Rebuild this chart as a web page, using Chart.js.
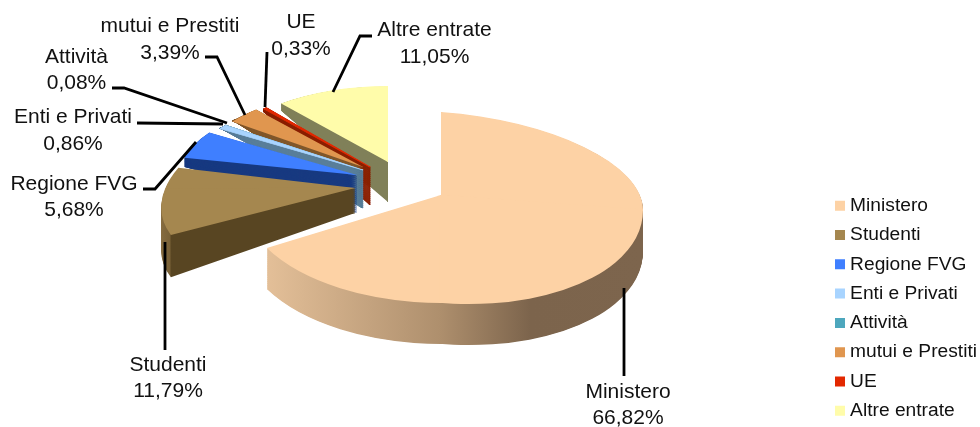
<!DOCTYPE html>
<html><head><meta charset="utf-8">
<style>html,body{margin:0;padding:0;background:#fff}#w{width:980px;height:427px}canvas{filter:blur(.35px)}</style>
<script src="https://cdn.jsdelivr.net/npm/chart.js@4"></script>
</head><body><div id="w"><canvas id="c"></canvas></div>
<script>
const categories = ["Ministero","Studenti","Regione FVG","Enti e Privati","Attività","mutui e Prestiti","UE","Altre entrate"];
const shares = [66.82,11.79,5.68,0.86,0.08,3.39,0.33,11.05];
const faceColors = ["#FDD2A5","#A5874F","#3F7FFF","#A8D4FF","#4DA7BD","#E0964F","#E32800","#FFFCAA"];
const wallColors = ["#7C644C","#584522","#183A80","#5A7F9A","#2D6A78","#80582C","#8A2000","#80805A"];
const hairline = [0,0,0,0.9,0.9,0,1.1,0];

// perspective placement of each slice (styling of the fake 3D view)
function place(x,y,a,b,c,d,depth,k){return {x,y,aL:a,aR:a,bL:b,bR:b,cT:c,cB:c,dT:d,dB:d,depth,k};}
const view = [
  {x:441,y:195,aL:200,aR:202,bL:0,bR:15,cT:0,cB:0,dT:83,dB:108,depth:41,k:0},
  place(355,188,190,-1,-38,94,25,-0.093),
  place(357,175,177,0,0,77,38,0.166),
  place(363,170,171,0,0,75,38,0.27),
  place(362,170,171,0,0,75,38,0.27),
  place(363,167,163,0,0,76,38,0.3),
  place(370,167,162,0,0,77,38,0.33),
  place(388,162,167,0,0,76,40,0.308)
];
const paintOrder = [7,6,5,4,3,2,1,0];

// label blocks: centre x, first line y, second line y, leader polyline
const labelPos = [
  {x:628,y1:392,y2:418,line:[[624,288],[624,376]]},
  {x:168,y1:365,y2:391,line:[[165,242],[165,350]]},
  {x:74,y1:184,y2:210,line:[[196,142],[155,189],[143,189]]},
  {x:73,y1:117,y2:144,line:[[137,123],[223,124]]},
  {x:76.5,y1:57,y2:83,line:[[112,88],[124,88],[227,123]]},
  {x:170,y1:26,y2:53,line:[[205,57],[217,57],[245,115]]},
  {x:301,y1:22,y2:49,line:[[267,52],[265,107]]},
  {x:434.5,y1:30,y2:57,line:[[372,36],[360,36],[333,92]]}
];
const fmt = v => v.toFixed(2).replace('.',',')+'%';

function drawArc(ctx,el,p,t,color,hair){
  const R=el.outerRadius, saved=el.options;
  el.options=Object.assign({},saved,{backgroundColor:color,borderColor:color,borderWidth:hair,borderAlign:'center',offset:0,spacing:0});
  for(const su of [-1,1]) for(const sv of [-1,1]){
    const a=su<0?p.aL:p.aR,b=su<0?p.bL:p.bR,c=sv<0?p.cT:p.cB,d=sv<0?p.dT:p.dB;
    ctx.save();
    ctx.transform(1,t*p.k,0,1,p.x,p.y+t*p.depth);
    ctx.transform(a/R,b/R,c/R,d/R,0,0);
    ctx.beginPath();
    const e=0.6, w=R*1.2;
    ctx.rect(su<0?-w:-e,sv<0?-w:-e,w+e,w+e);
    ctx.clip();
    ctx.translate(-el.x,-el.y);
    el.draw(ctx);
    ctx.restore();
  }
  el.options=saved;
}
function wallStyle(ctx,el,i,p){
  const R=el.outerRadius;
  if(i===0){
    const g=ctx.createLinearGradient(el.x-R,0,el.x+R,0);
    const s=v=>(v-(p.x-201))/402;
    g.addColorStop(0,"#F0CBA2");
    g.addColorStop(s(267),"#E3BF98");
    g.addColorStop(s(440),"#AE8F6D");
    g.addColorStop(s(530),"#7C644C");
    g.addColorStop(1,"#7D654D");
    return g;
  }
  if(i===1){
    const g=ctx.createLinearGradient(el.x-R,0,el.x+R,0);
    g.addColorStop(0,"#8A6F42");
    g.addColorStop(0.06,"#7A6238");
    g.addColorStop(0.065,wallColors[1]);
    g.addColorStop(1,wallColors[1]);
    return g;
  }
  return wallColors[i];
}
const fake3d={
  id:'fake3d',
  beforeDatasetsDraw(chart){
    const ctx=chart.ctx, arcs=chart.getDatasetMeta(0).data;
    for(const i of paintOrder){
      const el=arcs[i], p=view[i], wall=wallStyle(ctx,el,i,p);
      const n=Math.ceil(p.depth*1.5);
      for(let s=n;s>0;s--) drawArc(ctx,el,p,s/n,wall,hairline[i]);
      drawArc(ctx,el,p,0,faceColors[i],hairline[i]);
    }
    ctx.save();
    ctx.strokeStyle="#000";ctx.lineWidth=2.8;ctx.lineJoin="miter";ctx.lineCap="butt";
    labelPos.forEach(l=>{ctx.beginPath();l.line.forEach((q,j)=>j?ctx.lineTo(q[0],q[1]):ctx.moveTo(q[0],q[1]));ctx.stroke();});
    ctx.fillStyle="#111";ctx.font='21px "Liberation Sans"';ctx.textAlign="center";ctx.textBaseline="middle";
    labelPos.forEach((l,i)=>{ctx.fillText(categories[i],l.x,l.y1);ctx.fillText(fmt(shares[i]),l.x,l.y2);});
    ctx.restore();
    return false;
  }
};
new Chart(document.getElementById('c'),{
  type:'pie',
  data:{labels:categories,datasets:[{data:shares,backgroundColor:faceColors,borderWidth:0}]},
  options:{
    responsive:true,maintainAspectRatio:false,animation:false,rotation:0,
    layout:{padding:{top:186,right:-7,bottom:-40,left:0}},
    plugins:{
      tooltip:{enabled:false},
      legend:{position:'right',align:'start',
        labels:{usePointStyle:true,pointStyle:'rect',boxWidth:1,boxHeight:10,padding:10.1,color:"#111",
          font:{family:'"Liberation Sans"',size:19.2}}}
    }
  },
  plugins:[fake3d]
});
</script></body></html>
